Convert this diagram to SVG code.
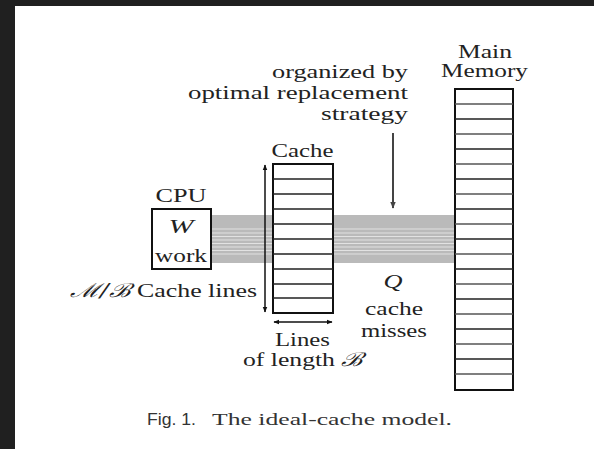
<svg xmlns="http://www.w3.org/2000/svg" width="594" height="449" viewBox="0 0 594 449">
<defs>
<style>
.t{font-family:"Liberation Serif","Times New Roman",serif;font-size:19px;fill:#222}
.box{fill:#fff;stroke:#111;stroke-width:2}
.row{stroke:#222;stroke-width:1.6}
.row2{stroke:#555;stroke-width:1.6}
.band{fill:#bababa}
.gap{stroke:#ececec;stroke-width:0.8}
</style>
<marker id="ah" viewBox="0 0 10 10" refX="9" refY="5" markerWidth="6" markerHeight="6" orient="auto-start-reverse" markerUnits="userSpaceOnUse">
<path d="M0,1 L10,5 L0,9 z" fill="#111"/>
</marker>
<marker id="ah2" viewBox="0 0 10 10" refX="9" refY="5" markerWidth="7" markerHeight="7" orient="auto" markerUnits="userSpaceOnUse">
<path d="M0,1 L10,5 L0,9 z" fill="#444"/>
</marker>
</defs>
<rect x="0" y="0" width="594" height="449" fill="#fff"/>
<rect x="0" y="0" width="594" height="6" fill="#202020"/>
<rect x="0" y="0" width="15" height="449" fill="#202020"/>

<g id="connectors">
<g id="band-left">
<rect class="band" x="211" y="215" width="62" height="48"/>
<path class="gap" d="M211,229H273M211,233H273M211,236.5H273M211,240H273M211,243.5H273M211,247H273M211,250.5H273M211,254H273"/>
</g>
<g id="band-right">
<rect class="band" x="333" y="215" width="122" height="48"/>
<path class="gap" d="M333,229H455M333,233H455M333,236.5H455M333,240H455M333,243.5H455M333,247H455M333,250.5H455M333,254H455"/>
</g>
<line x1="265" y1="165" x2="265" y2="312" stroke="#111" stroke-width="1.5" marker-start="url(#ah)" marker-end="url(#ah)"/>
<line x1="274" y1="322" x2="332" y2="322" stroke="#111" stroke-width="1.5" marker-start="url(#ah)" marker-end="url(#ah)"/>
<line x1="393" y1="133" x2="393" y2="208" stroke="#444" stroke-width="2" marker-end="url(#ah2)"/>
</g>

<g id="cpu">
<rect class="box" x="152" y="209" width="59" height="60"/>
<text class="t" x="181" y="202" text-anchor="middle" textLength="51" lengthAdjust="spacingAndGlyphs">CPU</text>
<text class="t" x="181" y="233" text-anchor="middle" font-style="italic" textLength="25" lengthAdjust="spacingAndGlyphs">W</text>
<text class="t" x="181" y="262" text-anchor="middle" textLength="52" lengthAdjust="spacingAndGlyphs">work</text>
</g>

<g id="cache">
<rect class="box" x="273" y="164" width="60" height="149"/>
<path class="row" d="M273,179H333M273,194H333M273,209H333M273,224H333M273,239H333M273,254H333M273,269H333M273,284H333M273,298H333"/>
<text class="t" x="302.5" y="157" text-anchor="middle" textLength="62" lengthAdjust="spacingAndGlyphs">Cache</text>
</g>

<g id="main-memory">
<rect class="box" x="455" y="89" width="58" height="301"/>
<path class="row2" d="M455,104H513M455,134H513M455,164H513M455,194H513M455,224H513M455,254H513M455,284H513M455,314H513M455,344H513M455,374H513"/>
<path class="row" d="M455,119H513M455,149H513M455,179H513M455,209H513M455,239H513M455,269H513M455,299H513M455,329H513M455,359H513"/>
<text class="t" x="485" y="58" text-anchor="middle" textLength="54" lengthAdjust="spacingAndGlyphs">Main</text>
<text class="t" x="484.5" y="77" text-anchor="middle" textLength="87" lengthAdjust="spacingAndGlyphs">Memory</text>
</g>

<g id="strategy-label">
<text class="t" x="408" y="78" text-anchor="end" textLength="136" lengthAdjust="spacingAndGlyphs">organized by</text>
<text class="t" x="408" y="99" text-anchor="end" textLength="220" lengthAdjust="spacingAndGlyphs">optimal replacement</text>
<text class="t" x="408" y="120" text-anchor="end" textLength="87" lengthAdjust="spacingAndGlyphs">strategy</text>
</g>

<g id="cache-lines-label">
<text class="t" x="70" y="297" textLength="187" lengthAdjust="spacingAndGlyphs"><tspan font-family="DejaVu Serif, serif" font-style="italic">ℳ/ℬ</tspan> Cache lines</text>
</g>

<g id="line-length-label">
<text class="t" x="302.5" y="346" text-anchor="middle" textLength="55" lengthAdjust="spacingAndGlyphs">Lines</text>
<text class="t" x="303" y="366" text-anchor="middle" textLength="120" lengthAdjust="spacingAndGlyphs">of length <tspan font-family="DejaVu Serif, serif" font-style="italic">ℬ</tspan></text>
</g>

<g id="misses-label">
<text class="t" x="393" y="288" text-anchor="middle" font-style="italic" textLength="19" lengthAdjust="spacingAndGlyphs">Q</text>
<text class="t" x="394" y="315" text-anchor="middle" textLength="58" lengthAdjust="spacingAndGlyphs">cache</text>
<text class="t" x="394" y="337" text-anchor="middle" textLength="66" lengthAdjust="spacingAndGlyphs">misses</text>
</g>

<g id="caption">
<text x="147" y="425" font-family="Liberation Sans, Arial, sans-serif" font-size="16" fill="#333" textLength="49" lengthAdjust="spacingAndGlyphs">Fig. 1.</text>
<text x="212" y="425" font-family="Liberation Serif, Times New Roman, serif" font-size="17" fill="#333" textLength="240" lengthAdjust="spacingAndGlyphs">The ideal-cache model.</text>
</g>
</svg>
